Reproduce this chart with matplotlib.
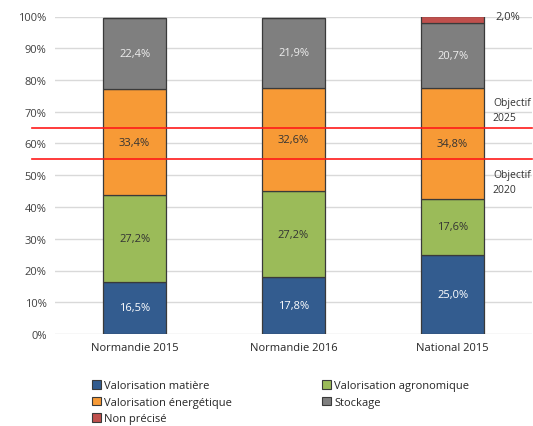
import matplotlib
matplotlib.use("Agg")
import matplotlib.pyplot as plt
from matplotlib.patches import Patch
import numpy as np

plt.rcParams['font.family'] = ['Open Sans', 'DejaVu Sans']

categories = ["Normandie 2015", "Normandie 2016", "National 2015"]
series_names = ["Valorisation matière", "Valorisation agronomique",
                "Valorisation énergétique", "Stockage", "Non précisé"]
matiere = [16.5, 17.8, 25.0]
agronomique = [27.2, 27.2, 17.6]
energetique = [33.4, 32.6, 34.8]
stockage = [22.4, 21.9, 20.7]
non_precise = [0.0, 0.0, 2.0]
objectifs = [65, 55]
objectif_labels = ["Objectif\n2025", "Objectif\n2020"]
yticks = list(range(0, 101, 10))

colors = ["#335C8F", "#9BBB59", "#F79A36", "#7F7F7F", "#C0504D"]
label_colors = ["white", "#333333", "#333333", "#EEEEEE", "#333333"]

fig = plt.figure(figsize=(5.33, 4.27), dpi=100)
ax = fig.add_axes([55/533, 1-335/427, 477/533, (335-17.5)/427])

x = np.arange(len(categories))
data = [matiere, agronomique, energetique, stockage, non_precise]
bottom = np.zeros(len(categories))
handles = []
for i, (vals, name) in enumerate(zip(data, series_names)):
    vals = np.array(vals)
    bars = ax.bar(x, vals, width=0.40, bottom=bottom, color=colors[i],
                  edgecolor="#3A3A3A", linewidth=0.9, zorder=3)
    if i < 4:
        labels = [f"{v:.1f}%".replace(".", ",") for v in vals]
        ax.bar_label(bars, labels=labels, label_type="center",
                     color=label_colors[i], fontsize=8)
    handles.append(Patch(facecolor=colors[i], edgecolor="#3A3A3A", linewidth=0.8, label=name))
    bottom = bottom + vals

# label for "Non précisé"
ax.text(x[2] + 0.27, bottom[2], f"{non_precise[2]:.1f}%".replace(".", ","),
        ha="left", va="center", fontsize=8, color="#333333")

ax.set_xlim(-0.5, 2.5)
ax.set_ylim(0, 100)
ax.set_yticks(yticks)
ax.set_yticklabels([f"{t}%" for t in yticks], fontsize=8, color="#404040")
ax.set_xticks(x)
ax.set_xticklabels(categories, fontsize=8, color="#262626")
ax.tick_params(length=0, pad=6)
for s in ax.spines.values():
    s.set_visible(False)
ax.grid(axis="y", color="#D9D9D9", linewidth=1, zorder=0)
ax.set_axisbelow(True)

# objective lines
for yv, lab, va, dy in zip(objectifs, objectif_labels, ["bottom", "top"], [1.6, -3]):
    ax.plot([-0.645, 2.5], [yv, yv], color="#FF1A1A", linewidth=1.2,
            clip_on=False, zorder=4)
    ax.text(2.254, yv + dy, lab, ha="left", va=va, fontsize=7.5,
            color="#333333", linespacing=1.5)

order = [0, 2, 4, 1, 3]
fig.legend([handles[i] for i in order], [series_names[i] for i in order],
           ncol=2, loc="upper left", bbox_to_anchor=(82/533, 1-371/427),
           frameon=False, fontsize=8, handlelength=0.8, handleheight=0.8,
           handletextpad=0.3, labelspacing=0.5, columnspacing=8.1,
           labelcolor="#262626")

fig.savefig("out.png", dpi=100)
